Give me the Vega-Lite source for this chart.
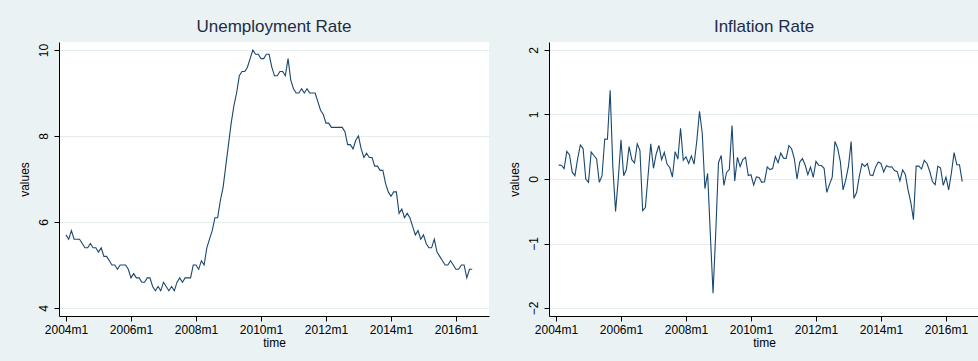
{
"$schema": "https://vega.github.io/schema/vega-lite/v6.json",
"background": "#eaf2f3",
"padding": {"left": 18, "top": 18, "right": 1, "bottom": 14},
"bounds": "flush",
"spacing": 60,
"config": {
  "font": "Liberation Sans",
  "view": {"fill": "white", "stroke": null},
  "axis": {"domainColor": "#000000", "tickColor": "#000000", "labelColor": "#000000", "titleColor": "#000000", "labelFont": "Liberation Sans", "titleFont": "Liberation Sans", "labelFontSize": 12, "titleFontSize": 12, "titleFontWeight": "normal", "tickSize": 5, "gridColor": "#e4ecee", "domainWidth": 1, "tickWidth": 1},
  "title": {"fontSize": 17, "fontWeight": "normal", "color": "#1e2b48", "font": "Liberation Sans", "offset": 6, "anchor": "middle"}
},
"datasets": {
  "unemp": [
{"t":0,"u":5.7},{"t":1,"u":5.6},{"t":2,"u":5.8},{"t":3,"u":5.6},{"t":4,"u":5.6},{"t":5,"u":5.6},{"t":6,"u":5.5},{"t":7,"u":5.4},{"t":8,"u":5.4},{"t":9,"u":5.5},{"t":10,"u":5.4},{"t":11,"u":5.4},
{"t":12,"u":5.3},{"t":13,"u":5.4},{"t":14,"u":5.2},{"t":15,"u":5.2},{"t":16,"u":5.1},{"t":17,"u":5.0},{"t":18,"u":5.0},{"t":19,"u":4.9},{"t":20,"u":5.0},{"t":21,"u":5.0},{"t":22,"u":5.0},{"t":23,"u":4.9},
{"t":24,"u":4.7},{"t":25,"u":4.8},{"t":26,"u":4.7},{"t":27,"u":4.7},{"t":28,"u":4.6},{"t":29,"u":4.6},{"t":30,"u":4.7},{"t":31,"u":4.7},{"t":32,"u":4.5},{"t":33,"u":4.4},{"t":34,"u":4.5},{"t":35,"u":4.4},
{"t":36,"u":4.6},{"t":37,"u":4.5},{"t":38,"u":4.4},{"t":39,"u":4.5},{"t":40,"u":4.4},{"t":41,"u":4.6},{"t":42,"u":4.7},{"t":43,"u":4.6},{"t":44,"u":4.7},{"t":45,"u":4.7},{"t":46,"u":4.7},{"t":47,"u":5.0},
{"t":48,"u":5.0},{"t":49,"u":4.9},{"t":50,"u":5.1},{"t":51,"u":5.0},{"t":52,"u":5.4},{"t":53,"u":5.6},{"t":54,"u":5.8},{"t":55,"u":6.1},{"t":56,"u":6.1},{"t":57,"u":6.5},{"t":58,"u":6.8},{"t":59,"u":7.3},
{"t":60,"u":7.8},{"t":61,"u":8.3},{"t":62,"u":8.7},{"t":63,"u":9.0},{"t":64,"u":9.4},{"t":65,"u":9.5},{"t":66,"u":9.5},{"t":67,"u":9.6},{"t":68,"u":9.8},{"t":69,"u":10.0},{"t":70,"u":9.9},{"t":71,"u":9.9},
{"t":72,"u":9.8},{"t":73,"u":9.8},{"t":74,"u":9.9},{"t":75,"u":9.9},{"t":76,"u":9.6},{"t":77,"u":9.4},{"t":78,"u":9.4},{"t":79,"u":9.5},{"t":80,"u":9.5},{"t":81,"u":9.4},{"t":82,"u":9.8},{"t":83,"u":9.3},
{"t":84,"u":9.1},{"t":85,"u":9.0},{"t":86,"u":9.0},{"t":87,"u":9.1},{"t":88,"u":9.0},{"t":89,"u":9.1},{"t":90,"u":9.0},{"t":91,"u":9.0},{"t":92,"u":9.0},{"t":93,"u":8.8},{"t":94,"u":8.6},{"t":95,"u":8.5},
{"t":96,"u":8.3},{"t":97,"u":8.3},{"t":98,"u":8.2},{"t":99,"u":8.2},{"t":100,"u":8.2},{"t":101,"u":8.2},{"t":102,"u":8.2},{"t":103,"u":8.1},{"t":104,"u":7.8},{"t":105,"u":7.8},{"t":106,"u":7.7},{"t":107,"u":7.9},
{"t":108,"u":8.0},{"t":109,"u":7.7},{"t":110,"u":7.5},{"t":111,"u":7.6},{"t":112,"u":7.5},{"t":113,"u":7.5},{"t":114,"u":7.3},{"t":115,"u":7.3},{"t":116,"u":7.2},{"t":117,"u":7.2},{"t":118,"u":6.9},{"t":119,"u":6.7},
{"t":120,"u":6.6},{"t":121,"u":6.7},{"t":122,"u":6.7},{"t":123,"u":6.2},{"t":124,"u":6.3},{"t":125,"u":6.1},{"t":126,"u":6.2},{"t":127,"u":6.1},{"t":128,"u":5.9},{"t":129,"u":5.7},{"t":130,"u":5.8},{"t":131,"u":5.6},
{"t":132,"u":5.7},{"t":133,"u":5.5},{"t":134,"u":5.4},{"t":135,"u":5.4},{"t":136,"u":5.6},{"t":137,"u":5.3},{"t":138,"u":5.2},{"t":139,"u":5.1},{"t":140,"u":5.0},{"t":141,"u":5.0},{"t":142,"u":5.1},{"t":143,"u":5.0},
{"t":144,"u":4.9},{"t":145,"u":4.9},{"t":146,"u":5.0},{"t":147,"u":5.0},{"t":148,"u":4.7},{"t":149,"u":4.9},{"t":150,"u":4.9}
  ],
  "infl": [
{"t":1,"v":0.215},{"t":2,"v":0.214},{"t":3,"v":0.160},{"t":4,"v":0.427},{"t":5,"v":0.372},{"t":6,"v":0.106},{"t":7,"v":0.053},{"t":8,"v":0.317},{"t":9,"v":0.527},{"t":10,"v":0.472},{"t":11,"v":0.0},
{"t":12,"v":-0.052},{"t":13,"v":0.418},{"t":14,"v":0.364},{"t":15,"v":0.311},{"t":16,"v":-0.052},{"t":17,"v":0.052},{"t":18,"v":0.620},{"t":19,"v":0.616},{"t":20,"v":1.377},{"t":21,"v":0.18},{"t":22,"v":-0.502},{"t":23,"v":0.0},
{"t":24,"v":0.606},{"t":25,"v":0.050},{"t":26,"v":0.150},{"t":27,"v":0.501},{"t":28,"v":0.299},{"t":29,"v":0.248},{"t":30,"v":0.545},{"t":31,"v":0.444},{"t":32,"v":-0.491},{"t":33,"v":-0.444},{"t":34,"v":0.050},{"t":35,"v":0.545},
{"t":36,"v":0.166},{"t":37,"v":0.388},{"t":38,"v":0.520},{"t":39,"v":0.300},{"t":40,"v":0.413},{"t":41,"v":0.232},{"t":42,"v":0.178},{"t":43,"v":0.031},{"t":44,"v":0.424},{"t":45,"v":0.308},{"t":46,"v":0.786},{"t":47,"v":0.290},
{"t":48,"v":0.345},{"t":49,"v":0.242},{"t":50,"v":0.358},{"t":51,"v":0.231},{"t":52,"v":0.592},{"t":53,"v":1.048},{"t":54,"v":0.714},{"t":55,"v":-0.149},{"t":56,"v":0.086},{"t":57,"v":-0.860},{"t":58,"v":-1.771},{"t":59,"v":-0.823},
{"t":60,"v":0.253},{"t":61,"v":0.364},{"t":62,"v":-0.099},{"t":63,"v":0.101},{"t":64,"v":0.147},{"t":65,"v":0.830},{"t":66,"v":-0.030},{"t":67,"v":0.335},{"t":68,"v":0.193},{"t":69,"v":0.300},{"t":70,"v":0.335},{"t":71,"v":0.052},
{"t":72,"v":0.065},{"t":73,"v":-0.095},{"t":74,"v":0.033},{"t":75,"v":0.023},{"t":76,"v":-0.052},{"t":77,"v":-0.042},{"t":78,"v":0.187},{"t":79,"v":0.146},{"t":80,"v":0.162},{"t":81,"v":0.348},{"t":82,"v":0.253},{"t":83,"v":0.402},
{"t":84,"v":0.324},{"t":85,"v":0.321},{"t":86,"v":0.517},{"t":87,"v":0.469},{"t":88,"v":0.318},{"t":89,"v":0.0},{"t":90,"v":0.262},{"t":91,"v":0.315},{"t":92,"v":0.217},{"t":93,"v":0.068},{"t":94,"v":0.185},{"t":95,"v":0.024},
{"t":96,"v":0.272},{"t":97,"v":0.214},{"t":98,"v":0.209},{"t":99,"v":0.166},{"t":100,"v":-0.207},{"t":101,"v":-0.083},{"t":102,"v":0.029},{"t":103,"v":0.581},{"t":104,"v":0.477},{"t":105,"v":0.270},{"t":106,"v":-0.168},{"t":107,"v":-0.012},
{"t":108,"v":0.198},{"t":109,"v":0.58},{"t":110,"v":-0.30},{"t":111,"v":-0.209},{"t":112,"v":0.041},{"t":113,"v":0.238},{"t":114,"v":0.196},{"t":115,"v":0.239},{"t":116,"v":0.06},{"t":117,"v":0.054},{"t":118,"v":0.184},{"t":119,"v":0.264},
{"t":120,"v":0.242},{"t":121,"v":0.110},{"t":122,"v":0.204},{"t":123,"v":0.186},{"t":124,"v":0.190},{"t":125,"v":0.132},{"t":126,"v":0.113},{"t":127,"v":-0.03},{"t":128,"v":0.14},{"t":129,"v":0.07},{"t":130,"v":-0.17},{"t":131,"v":-0.36},
{"t":132,"v":-0.63},{"t":133,"v":0.20},{"t":134,"v":0.20},{"t":135,"v":0.155},{"t":136,"v":0.29},{"t":137,"v":0.24},{"t":138,"v":0.12},{"t":139,"v":-0.04},{"t":140,"v":-0.09},{"t":141,"v":0.20},{"t":142,"v":0.17},{"t":143,"v":-0.10},
{"t":144,"v":0.03},{"t":145,"v":-0.17},{"t":146,"v":0.09},{"t":147,"v":0.41},{"t":148,"v":0.22},{"t":149,"v":0.22},{"t":150,"v":-0.04}
  ]
},
"hconcat": [
  {
    "title": "Unemployment Rate",
    "width": 430, "height": 274,
    "data": {"name": "unemp"},
    "mark": {"type": "line", "color": "#1a476f", "strokeWidth": 1.1},
    "encoding": {
      "x": {"field": "t", "type": "quantitative", "scale": {"domain": [-2.58, 156.2], "nice": false, "zero": false},
        "axis": {"title": "time", "values": [0,24,48,72,96,120,144], "labelExpr": "(2004 + datum.value/12) + 'm1'", "grid": false, "labelPadding": 3, "titlePadding": 2}},
      "y": {"field": "u", "type": "quantitative", "scale": {"domain": [3.814, 10.186], "nice": false, "zero": false},
        "axis": {"title": "values", "values": [4,6,8,10], "labelAngle": 270, "labelAlign": "center", "labelBaseline": "bottom", "grid": true, "labelPadding": 4, "titlePadding": 6}}
    }
  },
  {
    "title": "Inflation Rate",
    "width": 430, "height": 274,
    "data": {"name": "infl"},
    "mark": {"type": "line", "color": "#1a476f", "strokeWidth": 1.1},
    "encoding": {
      "x": {"field": "t", "type": "quantitative", "scale": {"domain": [-2.58, 156.2], "nice": false, "zero": false},
        "axis": {"title": "time", "values": [0,24,48,72,96,120,144], "labelExpr": "(2004 + datum.value/12) + 'm1'", "grid": false, "labelPadding": 3, "titlePadding": 2}},
      "y": {"field": "v", "type": "quantitative", "scale": {"domain": [-2.124, 2.124], "nice": false, "zero": false},
        "axis": {"title": "values", "values": [-2,-1,0,1,2], "labelAngle": 270, "labelAlign": "center", "labelBaseline": "bottom", "grid": true, "labelPadding": 4, "titlePadding": 6}}
    }
  }
]
}
